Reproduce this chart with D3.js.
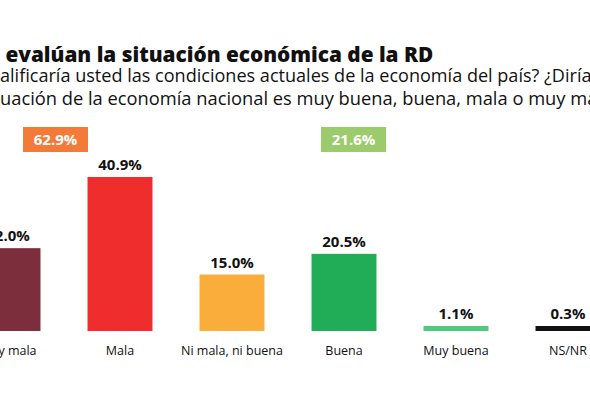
<!DOCTYPE html>
<html><head><meta charset="utf-8">
<script src="https://cdn.jsdelivr.net/npm/d3@7"></script>
<style>body{margin:0;background:#fff}svg{display:block}</style>
</head><body><div id="chart"></div>
<script>
const categories = ['Muy mala', 'Mala', 'Ni mala, ni buena', 'Buena', 'Muy buena', 'NS/NR'];
const values = [22.0, 40.9, 15.0, 20.5, 1.1, 0.3];
const colors = ['#7d2e3c', '#ef2d2d', '#fbad3b', '#21ad58', '#4fc97c', '#111111'];
const groupLabels = ['62.9%', '21.6%'];
const groupColors = ['#f47a3a', '#9ccb6c'];

const W = 590, H = 410;
const svg = d3.select('#chart').append('svg').attr('width', W).attr('height', H);
const font = '"Open Sans", sans-serif';

const x = d3.scaleBand().domain(categories).range([-48, 624]).paddingInner(0.42).paddingOuter(0.21);
const y = d3.scaleLinear().domain([0, 40.9]).range([331, 177]);

// title + subtitle: left part is cropped off in the original, so the visible
// part is fitted to its span and the hidden prefix pushed off the left edge
function cropLine(prefix, visible, yy, visW, size, weight) {
  const t = svg.append('text').attr('y', yy).attr('font-family', font)
    .attr('font-weight', weight).attr('fill', '#111').attr('font-size', size).text(visible);
  const fs = size * visW / t.node().getComputedTextLength();
  t.attr('font-size', fs).text(prefix);
  const pw = t.node().getComputedTextLength();
  t.text(prefix + visible).attr('x', -pw);
}
cropLine('Dominicanos ', 'evalúan la situación económica de la RD', 62, 428, 24, 800);
cropLine('¿Cómo c', 'alificaría usted las condiciones actuales de la economía del país? ¿Diría', 82, 592, 17, 400);
cropLine('usted que la sit', 'uación de la economía nacional es muy buena, buena, mala o muy ma', 105, 598, 17, 400);

// group badges
const badgeX = [23, 321], bw = 65;
svg.selectAll('.badge').data(groupLabels).enter().append('rect')
  .attr('x', (d, i) => badgeX[i]).attr('y', 127).attr('width', bw).attr('height', 25)
  .attr('fill', (d, i) => groupColors[i]);
svg.selectAll('.badgeT').data(groupLabels).enter().append('text')
  .attr('x', (d, i) => badgeX[i] + bw / 2).attr('y', 145).attr('text-anchor', 'middle')
  .attr('font-family', font).attr('font-weight', 700).attr('font-size', 15).attr('fill', '#fff')
  .text(d => d);

// bars
svg.selectAll('.bar').data(values).enter().append('rect')
  .attr('x', (d, i) => x(categories[i])).attr('width', x.bandwidth())
  .attr('y', d => Math.min(y(d), y(0) - 5)).attr('height', d => Math.max(y(0) - y(d), 5))
  .attr('fill', (d, i) => colors[i]);

svg.selectAll('.val').data(values).enter().append('text')
  .attr('x', (d, i) => x(categories[i]) + x.bandwidth() / 2)
  .attr('y', d => Math.min(y(d), y(0) - 5) - 7).attr('text-anchor', 'middle')
  .attr('font-family', font).attr('font-weight', 700).attr('font-size', 15).attr('fill', '#111')
  .text(d => d.toFixed(1) + '%');

svg.selectAll('.cat').data(categories).enter().append('text')
  .attr('x', d => x(d) + x.bandwidth() / 2).attr('y', 355).attr('text-anchor', 'middle')
  .attr('font-family', font).attr('font-size', 12.5).attr('fill', '#111').text(d => d);
</script></body></html>
